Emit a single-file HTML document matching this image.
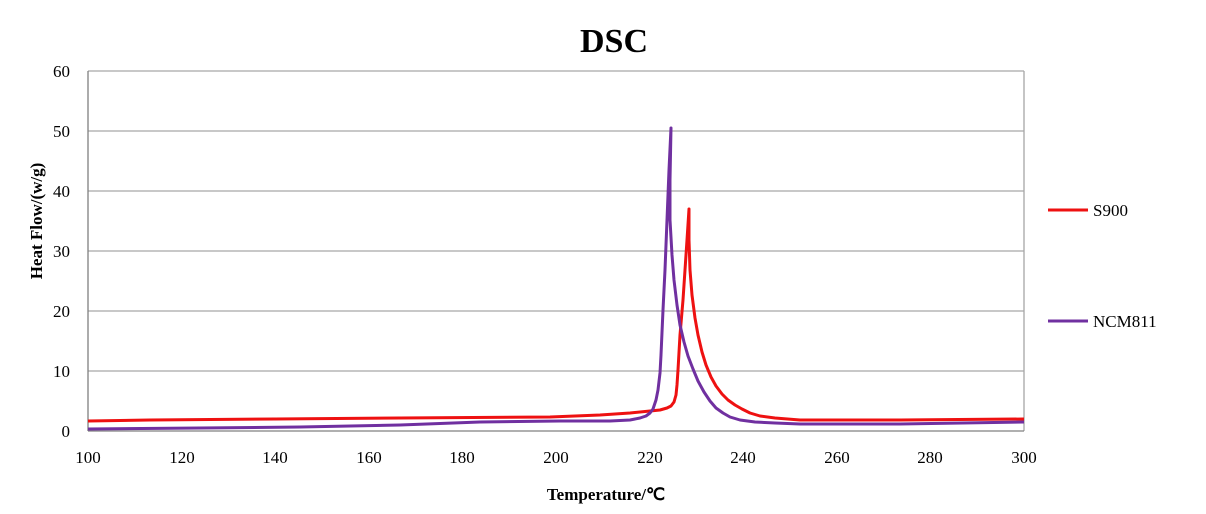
<!DOCTYPE html>
<html><head><meta charset="utf-8"><style>body{margin:0;background:#fff}</style></head><body>
<svg width="1206" height="509" xmlns="http://www.w3.org/2000/svg" font-family="Liberation Serif, serif">
<rect width="1206" height="509" fill="#fff"/>
<text x="614" y="52" font-size="34" font-weight="bold" text-anchor="middle">DSC</text>
<g stroke="#a6a6a6" stroke-width="1.3">
<line x1="88" y1="71" x2="1024" y2="71"/><line x1="88" y1="131" x2="1024" y2="131"/>
<line x1="88" y1="191" x2="1024" y2="191"/><line x1="88" y1="251" x2="1024" y2="251"/>
<line x1="88" y1="311" x2="1024" y2="311"/><line x1="88" y1="371" x2="1024" y2="371"/>
<line x1="1024" y1="71" x2="1024" y2="431"/>
</g>
<line x1="88" y1="71" x2="88" y2="431" stroke="#808080" stroke-width="1.3"/>
<line x1="88" y1="431" x2="1024" y2="431" stroke="#808080" stroke-width="1.3"/>
<g font-size="17" text-anchor="end">
<text x="70" y="77">60</text><text x="70" y="137">50</text><text x="70" y="197">40</text>
<text x="70" y="257">30</text><text x="70" y="317">20</text><text x="70" y="377">10</text><text x="70" y="437">0</text>
</g>
<g font-size="17" text-anchor="middle">
<text x="88" y="463">100</text><text x="182" y="463">120</text><text x="275" y="463">140</text>
<text x="369" y="463">160</text><text x="462" y="463">180</text><text x="556" y="463">200</text>
<text x="650" y="463">220</text><text x="743" y="463">240</text><text x="837" y="463">260</text>
<text x="930" y="463">280</text><text x="1024" y="463">300</text>
</g>
<text x="606" y="500" font-size="17" font-weight="bold" text-anchor="middle">Temperature/℃</text>
<text transform="translate(42,221) rotate(-90)" font-size="17" font-weight="bold" text-anchor="middle">Heat Flow/(w/g)</text>
<polyline fill="none" stroke="#ee1111" stroke-width="3" stroke-linejoin="round" points="88,421 150,420 275,419 400,418 550,417 600,415 630,413 650,411 660,410 667,408 671,406 674,402 676,395 677,385 678,370 680,335 683,300 685,270 687,240 689,209 689,240 690,270 692,295 695,318 698,335 702,352 706,365 711,377 716,386 722,394 728,400 735,405 742,409 750,413 760,416 775,418 800,420 900,420 1024,419"/>
<polyline fill="none" stroke="#7030a0" stroke-width="3" stroke-linejoin="round" points="88,429 200,428 300,427 400,425 480,422 560,421 610,421 630,420 640,418 646,416 650,413 653,409 656,400 658,390 660,373 661,355 663,310 665,270 667,220 669,170 671,128 670,180 670,220 672,255 674,280 677,305 680,325 684,342 688,356 693,369 698,381 704,392 710,401 716,408 723,413 730,417 740,420 755,422 775,423 800,424 900,424 1024,422"/>
<line x1="1048" y1="210" x2="1088" y2="210" stroke="#ee1111" stroke-width="3"/>
<text x="1093" y="216" font-size="17">S900</text>
<line x1="1048" y1="321" x2="1088" y2="321" stroke="#7030a0" stroke-width="3"/>
<text x="1093" y="327" font-size="17">NCM811</text>
</svg>
</body></html>
